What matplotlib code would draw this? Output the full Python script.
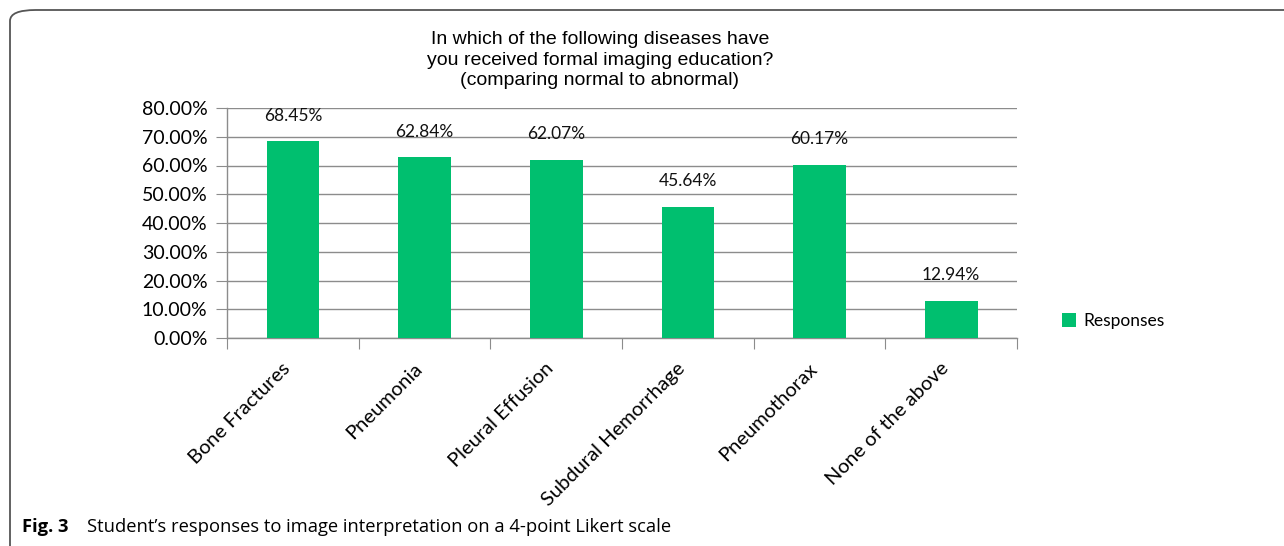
import matplotlib
matplotlib.use("Agg")
import matplotlib.pyplot as plt
from matplotlib.patches import FancyBboxPatch

# chart data
categories = ["Bone Fractures", "Pneumonia", "Pleural Effusion",
              "Subdural Hemorrhage", "Pneumothorax", "None of the above"]
responses = [68.45, 62.84, 62.07, 45.64, 60.17, 12.94]
yticks = [0, 10, 20, 30, 40, 50, 60, 70, 80]

green = "#00BF6F"
grid_gray = "#8c8c8c"
W, H = 1284, 546

fig = plt.figure(figsize=(W / 100, H / 100), dpi=100)

# rounded frame around the figure panel
frame = FancyBboxPatch((10 / W, -20 / H), (W + 20) / W, (H - 10 + 20) / H,
                       boxstyle="round,pad=0,rounding_size=0.02",
                       transform=fig.transFigure, fill=False,
                       edgecolor="#555555", linewidth=1.3, clip_on=False)
fig.patches.append(frame)

ax = fig.add_axes([227 / W, 1 - 338 / H, (1017 - 227) / W, (338 - 108) / H])
x = list(range(len(categories)))
ax.bar(x, responses, width=0.40, color=green, zorder=3, label="Responses")

for xi, v in zip(x, responses):
    ax.annotate(f"{v:.2f}%", (xi, v), xytext=(0, 18.5), textcoords="offset points",
                ha="center", va="center", fontsize=12.5, family="Lato", color="#111111")

ax.set_xlim(-0.5, 5.5)
ax.set_ylim(0, 80)
ax.set_yticks(yticks)
ax.set_yticklabels([f"{t:.2f}%" for t in yticks], fontsize=14, family="Lato")
ax.yaxis.grid(True, color=grid_gray, linewidth=1.0, zorder=0)
ax.tick_params(axis="y", length=8, color=grid_gray, pad=6)

# category ticks sit on the boundaries, labels at the centres
ax.set_xticks([i - 0.5 for i in range(len(categories) + 1)])
ax.set_xticklabels([])
ax.set_xticks([i - 0.04 for i in x], minor=True)
ax.set_xticklabels(categories, minor=True, rotation=45, ha="right", va="center",
                   rotation_mode="anchor", fontsize=14.5, family="Lato")
ax.tick_params(axis="x", which="major", length=8, color=grid_gray)
ax.tick_params(axis="x", which="minor", length=0, pad=20)

for side in ["top", "right"]:
    ax.spines[side].set_visible(False)
for side in ["left", "bottom"]:
    ax.spines[side].set_color(grid_gray)
    ax.spines[side].set_linewidth(1.0)

fig.text(600 / W, 1 - 60 / H,
         "In which of the following diseases have\nyou received formal imaging education?\n(comparing normal to abnormal)",
         ha="center", va="center", fontsize=14, family="Liberation Sans",
         linespacing=1.3)

ax.legend(loc="center left", bbox_to_anchor=(1046 / W, 1 - 321 / H),
          bbox_transform=fig.transFigure, frameon=False, handlelength=0.85,
          handleheight=0.85, handletextpad=0.4, prop={"family": "Lato", "size": 12.5})

fig.text(22 / W, 1 - 527 / H, r"Fig. 3", ha="left", va="center", fontsize=13.2,
         fontweight="bold", family="Open Sans")
fig.text(87 / W, 1 - 527 / H, "Student\u2019s responses to image interpretation on a 4-point Likert scale",
         ha="left", va="center", fontsize=13.2, family="Open Sans")

fig.savefig("out.png", dpi=100)
